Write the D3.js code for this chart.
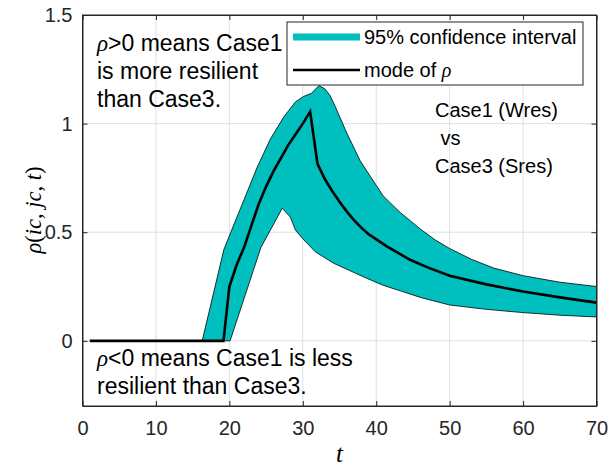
<!DOCTYPE html>
<html>
<head>
<meta charset="utf-8">
<script src="https://cdn.jsdelivr.net/npm/d3@7"></script>
<style>
  body { margin: 0; background: #fff; }
  text { font-family: "Liberation Sans", Arial, sans-serif; fill: #000; }
  .tick text { fill: #262626; }
</style>
</head>
<body>
<svg width="610" height="471"></svg>
<script>
var svg = d3.select('svg');

// readings from the picture
var upperT = [1, 16.3, 19.25, 20.2, 22, 23.8, 25.6, 27.4, 29.0, 30.1, 31.2, 32.2, 33.0, 33.7, 34.4, 36.0, 37.8, 39.2, 41.0, 43.3, 46, 48, 50, 53, 56, 60, 65, 70];
var upperV = [0, 0, 0.42, 0.50, 0.65, 0.80, 0.93, 1.03, 1.10, 1.125, 1.14, 1.175, 1.16, 1.13, 1.08, 0.956, 0.83, 0.757, 0.665, 0.59, 0.515, 0.465, 0.425, 0.375, 0.335, 0.30, 0.27, 0.25];
var lowerT = [1, 20.1, 24.3, 27.2, 28.3, 29.0, 30.0, 31.7, 34.2, 38.7, 41, 43.3, 46, 50, 55, 60, 65, 70];
var lowerV = [0, 0, 0.43, 0.61, 0.57, 0.51, 0.47, 0.41, 0.357, 0.288, 0.255, 0.23, 0.20, 0.165, 0.145, 0.13, 0.118, 0.11];
var modeT = [1, 19.2, 20, 21, 22, 23, 24, 25, 26, 27, 28, 29, 30, 31, 32, 33, 34, 35, 36, 37, 38, 39, 41.5, 44.6, 47, 50, 55, 60, 65, 70];
var modeV = [0, 0, 0.25, 0.35, 0.43, 0.53, 0.63, 0.71, 0.78, 0.84, 0.90, 0.95, 1.00, 1.055, 0.815, 0.745, 0.69, 0.64, 0.595, 0.555, 0.52, 0.49, 0.434, 0.373, 0.338, 0.30, 0.26, 0.227, 0.20, 0.176];

var xTicks = [0, 10, 20, 30, 40, 50, 60, 70];
var yTicks = [0, 0.5, 1, 1.5];

var pLeft = 82.5, pRight = 596.5, pTop = 15, pBottom = 406;
var teal = "rgb(0,191,191)", axisColor = "#262626";

var x = d3.scaleLinear().domain([0, 70]).range([pLeft, pRight]);
var y = d3.scaleLinear().domain([-0.3, 1.5]).range([pBottom, pTop]);

// grid
var grid = svg.append("g").attr("stroke", "#dfdfdf").attr("stroke-width", 1);
grid.selectAll(".gx").data(xTicks.slice(1, -1)).enter().append("line")
    .attr("x1", function(d) { return x(d); }).attr("x2", function(d) { return x(d); })
    .attr("y1", pTop).attr("y2", pBottom);
grid.selectAll(".gy").data(yTicks.slice(0, -1)).enter().append("line")
    .attr("x1", pLeft).attr("x2", pRight)
    .attr("y1", function(d) { return y(d); }).attr("y2", function(d) { return y(d); });

// band polygon: upper forward, lower back
var band = upperT.map(function(t, i) { return [t, upperV[i]]; })
    .concat(lowerT.map(function(t, i) { return [t, lowerV[i]]; }).reverse());
var line = d3.line().x(function(d) { return x(d[0]); }).y(function(d) { return y(d[1]); });

svg.append("path")
    .attr("d", line(band) + "Z")
    .attr("fill", teal)
    .attr("stroke", "#000")
    .attr("stroke-width", 0.8);

svg.append("path")
    .attr("d", line(modeT.map(function(t, i) { return [t, modeV[i]]; })))
    .attr("fill", "none")
    .attr("stroke", "#000")
    .attr("stroke-width", 2.6);

// axes
var xAxis = d3.axisBottom(x).tickValues(xTicks).tickSizeInner(-5).tickSizeOuter(0).tickPadding(15);
var yAxis = d3.axisLeft(y).tickValues(yTicks).tickSizeInner(-5).tickSizeOuter(0).tickPadding(10)
    .tickFormat(function(d) { return d; });
var xTop = d3.axisTop(x).tickValues(xTicks).tickSizeInner(-5).tickSizeOuter(0).tickFormat("");
var yRight = d3.axisRight(y).tickValues(yTicks).tickSizeInner(-5).tickSizeOuter(0).tickFormat("");

svg.append("g").attr("transform", "translate(0," + pBottom + ")").call(xAxis);
svg.append("g").attr("transform", "translate(" + pLeft + ",0)").call(yAxis);
svg.append("g").attr("transform", "translate(0," + pTop + ")").call(xTop);
svg.append("g").attr("transform", "translate(" + pRight + ",0)").call(yRight);

svg.selectAll(".domain").attr("stroke", axisColor);
svg.selectAll(".tick line").attr("stroke", axisColor);
svg.selectAll(".tick text").style("font-size", "20px").style("font-family", "Liberation Sans, Arial, sans-serif");

svg.append("rect")
    .attr("x", pLeft).attr("y", pTop)
    .attr("width", pRight - pLeft).attr("height", pBottom - pTop)
    .attr("fill", "none").attr("stroke", axisColor).attr("stroke-width", 1);

// axis labels
var serif = "'Liberation Serif', 'DejaVu Serif', serif";
svg.append("text")
    .attr("x", (pLeft + pRight) / 2).attr("y", 462)
    .attr("text-anchor", "middle")
    .style("font-family", serif).style("font-style", "italic").style("font-size", "25px")
    .text("t");

var yl = svg.append("text")
    .attr("transform", "translate(41,210) rotate(-90)")
    .attr("text-anchor", "middle")
    .style("font-family", serif).style("font-size", "22.5px");
[["ρ", 1], ["(", 0], ["ic", 1], [", ", 0], ["jc", 1], [", ", 0], ["t", 1], [")", 0]].forEach(function(p) {
    yl.append("tspan").style("font-style", p[1] ? "italic" : "normal").text(p[0]);
});

// annotations
function note(xp, yp, size, lines) {
    lines.forEach(function(l, i) {
        var t = svg.append("text").attr("x", xp).attr("y", yp + i * 28).style("font-size", size + "px");
        if (l.indexOf("ρ") === 0) {
            t.append("tspan").style("font-family", serif).style("font-style", "italic").text("ρ");
            t.append("tspan").text(l.slice(1));
        } else {
            t.text(l);
        }
    });
}
note(97, 51, 23, ["ρ>0 means Case1", "is more resilient", "than Case3."]);
note(435, 117, 20, ["Case1 (Wres)", " vs", "Case3 (Sres)"]);
note(97, 366, 23, ["ρ<0 means Case1 is less", "resilient than Case3."]);
svg.selectAll("text").attr("xml:space", "preserve");

// legend
var lg = svg.append("g");
lg.append("rect").attr("x", 287).attr("y", 22).attr("width", 296).attr("height", 63)
    .attr("fill", "#fff").attr("stroke", axisColor).attr("stroke-width", 1);
lg.append("line").attr("x1", 293).attr("x2", 360).attr("y1", 37).attr("y2", 37)
    .attr("stroke", teal).attr("stroke-width", 7);
lg.append("line").attr("x1", 293).attr("x2", 360).attr("y1", 70).attr("y2", 70)
    .attr("stroke", "#000").attr("stroke-width", 2.6);
lg.append("text").attr("x", 364).attr("y", 44).style("font-size", "20px").text("95% confidence interval");
var lt = lg.append("text").attr("x", 364).attr("y", 77).style("font-size", "20px");
lt.append("tspan").text("mode of ");
lt.append("tspan").style("font-family", serif).style("font-style", "italic").text("ρ");
</script>
</body>
</html>
